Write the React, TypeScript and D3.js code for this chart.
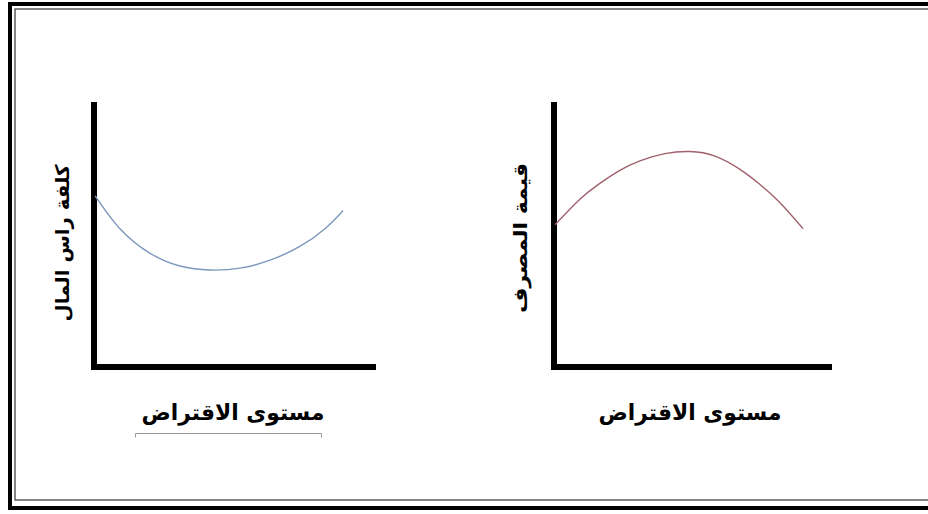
import React from "react";
import * as d3 from "d3";

const xLabel = "مستوى الاقتراض";
const leftYLabel = "كلفة راس المال";
const rightYLabel = "قيمة المصرف";

// Cost of capital curve (U shape)
const costX = [0.4, 9.2, 19.9, 30.5, 41.1, 51.8, 62.4, 73.0, 81.9, 88.3];
const costY = [64.6, 52.2, 42.9, 38.1, 36.6, 37.3, 40.3, 45.5, 52.2, 59.0];

// Bank value curve (inverted U)
const valueX = [0.4, 9.4, 16.5, 23.7, 30.9, 39.9, 48.9, 57.9, 66.9, 74.1, 81.3, 89.6];
const valueY = [53.7, 63.4, 69.3, 74.2, 77.8, 80.5, 81.3, 79.6, 74.6, 68.9, 62.0, 52.2];

const W = 928;
const H = 514;
const FONT = "'DejaVu Sans', 'Noto Sans', sans-serif";

function Panel({ x0, x1, yTop, yBottom, xs, ys, color, yLabel, yLabelX, yLabelY, yLabelLen, xLabelX }: any) {
  const x = d3.scaleLinear().domain([0, 100]).range([x0, x1]);
  const y = d3.scaleLinear().domain([0, 100]).range([yBottom, yTop]);
  const pts: [number, number][] = xs.map((v: number, i: number) => [v, ys[i]]);
  const line = d3
    .line<[number, number]>()
    .x((d) => x(d[0]))
    .y((d) => y(d[1]))
    .curve(d3.curveNatural);
  const aw = 6;
  return (
    <g>
      <line x1={x0} x2={x0} y1={yTop} y2={yBottom + aw / 2} stroke="#000" strokeWidth={aw} />
      <line x1={x0 - aw / 2} x2={x1} y1={yBottom} y2={yBottom} stroke="#000" strokeWidth={aw} />
      <path d={line(pts) || ""} fill="none" stroke={color} strokeWidth={1.4} />
      <text
        transform={`translate(${yLabelX},${yLabelY}) rotate(-90)`}
        textAnchor="middle"
        dominantBaseline="central"
        fontFamily={FONT}
        fontWeight="bold"
        fontSize={19}
        direction="rtl"
        textLength={yLabelLen}
        lengthAdjust="spacingAndGlyphs"
      >
        {yLabel}
      </text>
      <text
        x={xLabelX}
        y={420}
        textAnchor="middle"
        fontFamily={FONT}
        fontWeight="bold"
        fontSize={22}
        direction="rtl"
        textLength={183}
        lengthAdjust="spacingAndGlyphs"
      >
        {xLabel}
      </text>
    </g>
  );
}

export default function App() {
  return (
    <svg
      width={W}
      height={H}
      style={{ position: "absolute", left: 0, top: 0, background: "#fff" }}
    >
      <rect x={0} y={0} width={W} height={H} fill="#fff" />
      {/* frame */}
      <rect x={10} y={4} width={W + 20} height={504} fill="none" stroke="#000" strokeWidth={4} />
      <rect x={15} y={9} width={W + 20} height={491} fill="none" stroke="#444" strokeWidth={1.3} />
      <Panel
        x0={94}
        x1={376}
        yTop={102}
        yBottom={367}
        xs={costX}
        ys={costY}
        color="#7d98bd"
        yLabel={leftYLabel}
        yLabelX={62}
        yLabelY={243}
        yLabelLen={157}
        xLabelX={233}
      />
      <Panel
        x0={554}
        x1={832}
        yTop={102}
        yBottom={367}
        xs={valueX}
        ys={valueY}
        color="#a0606c"
        yLabel={rightYLabel}
        yLabelX={520}
        yLabelY={238}
        yLabelLen={150}
        xLabelX={690}
      />
      {/* small line under left label */}
      <path d="M135.5,437.5 V433.5 H321.5 V437.5" fill="none" stroke="#999" strokeWidth={1} />
    </svg>
  );
}
